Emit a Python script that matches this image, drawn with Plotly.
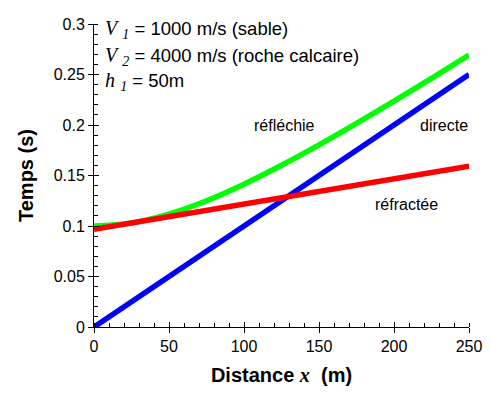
import plotly.graph_objects as go

# Data
x_direct = [0, 250]
t_direct = [0.0, 0.25]

x_refl = [0, 25, 50, 75, 100, 125, 150, 175, 200, 225, 250]
t_refl = [0.1000, 0.1031, 0.1118, 0.1250, 0.1414, 0.1601, 0.1803, 0.2016, 0.2236, 0.2462, 0.2693]

x_refr = [0, 250]
t_refr = [0.0968, 0.1593]

x_ticks = [0, 50, 100, 150, 200, 250]
y_ticks = [0, 0.05, 0.1, 0.15, 0.2, 0.25, 0.3]
y_tick_labels = ["0", "0.05", "0.1", "0.15", "0.2", "0.25", "0.3"]

FONT = "Liberation Sans, Arial, sans-serif"
SERIF = "Liberation Serif, Times New Roman, serif"

fig = go.Figure()
fig.add_trace(go.Scatter(x=x_refl, y=t_refl, mode="lines",
                         line=dict(color="#00ff00", width=5.5, shape="spline", smoothing=1.0),
                         showlegend=False))
fig.add_trace(go.Scatter(x=x_direct, y=t_direct, mode="lines",
                         line=dict(color="#0000ff", width=5.5), showlegend=False))
fig.add_trace(go.Scatter(x=x_refr, y=t_refr, mode="lines",
                         line=dict(color="#ff0000", width=5.5), showlegend=False))
# invisible trace for overlay axes (inside half of major ticks)
fig.add_trace(go.Scatter(x=[0], y=[0], xaxis="x2", yaxis="y2", mode="markers",
                         marker=dict(opacity=0), showlegend=False, hoverinfo="skip"))

fig.update_layout(
    width=491, height=396,
    margin=dict(l=86, r=30, t=8, b=77),
    plot_bgcolor="white", paper_bgcolor="white",
    font=dict(family=FONT, size=16, color="black"),
    xaxis=dict(
        range=[0, 250], tickvals=x_ticks, ticks="outside", ticklen=5, tickwidth=1,
        tickcolor="black", showline=True, linecolor="black", linewidth=1,
        showgrid=False, zeroline=False, tickfont=dict(size=16, family=FONT),
        ticklabeloverflow="allow",
        minor=dict(dtick=10, ticks="inside", ticklen=4, tickcolor="black", showgrid=False),
        title=dict(text="<b>Distance <span style='font-family:" + SERIF + "'><i>x</i></span>&nbsp;&nbsp;(m)</b>",
                   font=dict(size=20, family=FONT), standoff=13),
    ),
    yaxis=dict(
        range=[0, 0.3], tickvals=y_ticks, ticktext=y_tick_labels, ticks="outside",
        ticklen=5, tickwidth=1, tickcolor="black", showline=True, linecolor="black",
        linewidth=1, showgrid=False, zeroline=False, tickfont=dict(size=16, family=FONT),
        ticklabeloverflow="allow",
        minor=dict(dtick=0.01, ticks="inside", ticklen=4, tickcolor="black", showgrid=False),
        title=dict(text="<b>Temps (s)</b>", font=dict(size=20, family=FONT), standoff=14),
    ),
    xaxis2=dict(overlaying="x", range=[0, 250], tickvals=x_ticks, ticks="inside",
                ticklen=5, tickcolor="black", showticklabels=False, showline=False,
                showgrid=False, zeroline=False, side="bottom"),
    yaxis2=dict(overlaying="y", range=[0, 0.3], tickvals=y_ticks, ticks="inside",
                ticklen=5, tickcolor="black", showticklabels=False, showline=False,
                showgrid=False, zeroline=False, side="left"),
)

def sym(s, size=20):
    return "<span style='font-family:" + SERIF + ";font-size:%dpx'><i>%s</i></span>" % (size, s)

params = [
    sym("V") + " <sub>" + sym("1", 14) + "</sub> = 1000 m/s (sable)",
    sym("V") + " <sub>" + sym("2", 14) + "</sub> = 4000 m/s (roche calcaire)",
    sym("h") + " <sub>" + sym("1", 14) + "</sub> = 50m",
]
plot_w = 491 - 86 - 30
plot_h = 396 - 8 - 77
row_y = [14, 41, 67]  # figure pixels, row centres
for txt, ypix in zip(params, row_y):
    fig.add_annotation(x=(95 - 86) / plot_w, y=1 - (ypix - 8) / plot_h,
                       xref="paper", yref="paper", text=txt, showarrow=False,
                       xanchor="left", yanchor="middle", font=dict(size=18.5, family=FONT))

labels = [("réfléchie", 127, 0.1997), ("directe", 233, 0.1997), ("réfractée", 208, 0.121)]
for t, lx, ly in labels:
    fig.add_annotation(x=lx, y=ly, xref="x", yref="y", text=t, showarrow=False,
                       xanchor="center", yanchor="middle", font=dict(size=16, family=FONT))

fig.write_html("out.html")
